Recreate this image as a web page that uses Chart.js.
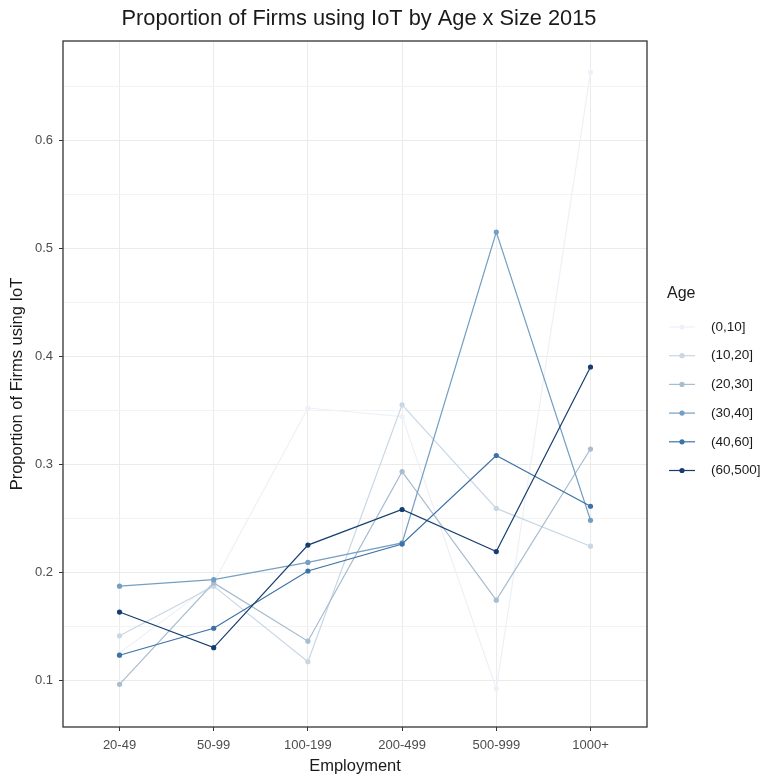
<!DOCTYPE html>
<html>
<head>
<meta charset="utf-8">
<title>Proportion of Firms using IoT by Age x Size 2015</title>
<script src="https://cdn.jsdelivr.net/npm/chart.js@4.4.1/dist/chart.umd.min.js"></script>
<style>
    html, body { margin: 0; padding: 0; background: #ffffff; }
    #wrap { width: 769px; height: 776px; }
</style>
</head>
<body>
<div id="wrap"><canvas id="iotChart" width="769" height="776"></canvas></div>
<script>
// employment size classes (x axis)
const sizes = ['20-49', '50-99', '100-199', '200-499', '500-999', '1000+'];

// firm age groups (legend)
const ages = ['(0,10]', '(10,20]', '(20,30]', '(30,40]', '(40,60]', '(60,500]'];

// proportion of firms using IoT, one array per age group
const age0to10 = [0.125, 0.190, 0.352, 0.344, 0.092, 0.663];
const age10to20 = [0.141, 0.187, 0.117, 0.355, 0.259, 0.224];
const age20to30 = [0.096, 0.190, 0.136, 0.293, 0.174, 0.314];
const age30to40 = [0.187, 0.193, 0.209, 0.227, 0.515, 0.248];
const age40to60 = [0.123, 0.148, 0.201, 0.226, 0.308, 0.261];
const age60to500 = [0.163, 0.130, 0.225, 0.258, 0.219, 0.390];

const yTicks = [0.1, 0.2, 0.3, 0.4, 0.5, 0.6];

const seriesValues = [age0to10, age10to20, age20to30, age30to40, age40to60, age60to500];
const palette = ['#edf1f7', '#c9d7e5', '#a8bdd0', '#759fc2', '#3d72a6', '#163d70'];

const FONT = '"Liberation Sans", Arial, sans-serif';
const TITLE = 'Proportion of Firms using IoT by Age x Size 2015';

const isMajor = v => yTicks.some(t => Math.abs(t - v) < 1e-6);

const datasets = ages.map((age, i) => ({
    label: age,
    data: seriesValues[i].map((v, j) => ({ x: j, y: v })),
    borderColor: palette[i],
    backgroundColor: palette[i],
    borderWidth: 1.2,
    pointRadius: 2.6,
    pointHoverRadius: 2.6,
    pointBorderWidth: 0,
    tension: 0,
    order: ages.length - i
}));

// title over the panel, panel border, and the legend on the right
const panelAndLegend = {
    id: 'panelAndLegend',
    afterDraw(chart) {
        const ctx = chart.ctx;
        const a = chart.chartArea;
        ctx.save();
        ctx.strokeStyle = '#333333';
        ctx.lineWidth = 1.3;
        ctx.strokeRect(a.left, a.top, a.right - a.left, a.bottom - a.top);

        ctx.fillStyle = '#1a1a1a';
        ctx.textBaseline = 'middle';
        ctx.textAlign = 'center';
        ctx.font = '21.8px ' + FONT;
        ctx.fillText(TITLE, (a.left + a.right) / 2 + 4, 19);

        ctx.textAlign = 'left';
        ctx.font = '16px ' + FONT;
        ctx.fillText('Age', 667, 294);

        ctx.font = '13.5px ' + FONT;
        chart.data.datasets.forEach((ds, i) => {
            const y = 327 + i * 28.7;
            ctx.strokeStyle = ds.borderColor;
            ctx.lineWidth = 1.2;
            ctx.beginPath();
            ctx.moveTo(669, y);
            ctx.lineTo(695, y);
            ctx.stroke();
            ctx.fillStyle = ds.backgroundColor;
            ctx.beginPath();
            ctx.arc(682, y, 2.6, 0, Math.PI * 2);
            ctx.fill();
            ctx.fillStyle = '#1a1a1a';
            ctx.fillText(ds.label, 711, y);
        });
        ctx.restore();
    }
};

new Chart(document.getElementById('iotChart').getContext('2d'), {
    type: 'line',
    data: { datasets: datasets },
    options: {
        responsive: false,
        animation: false,
        layout: { padding: { left: 0, right: 122, top: 41, bottom: 0 } },
        plugins: {
            legend: { display: false },
            tooltip: { enabled: false },
            title: { display: false }
        },
        scales: {
            x: {
                type: 'linear',
                min: -0.6,
                max: sizes.length - 1 + 0.6,
                afterBuildTicks: scale => {
                    scale.ticks = sizes.map((s, i) => ({ value: i }));
                },
                afterFit: scale => { scale.height = 49; },
                ticks: {
                    callback: v => sizes[v],
                    color: '#4d4d4d',
                    font: { family: FONT, size: 13 },
                    padding: 7,
                    maxRotation: 0,
                    autoSkip: false
                },
                grid: {
                    color: '#ebebeb',
                    lineWidth: 1,
                    tickLength: 4,
                    tickColor: '#333333'
                },
                border: { display: false },
                title: {
                    display: true,
                    text: 'Employment',
                    color: '#1a1a1a',
                    font: { family: FONT, size: 16.5 },
                    padding: { top: 0, bottom: 0 }
                }
            },
            y: {
                type: 'linear',
                min: 0.0565,
                max: 0.692,
                afterBuildTicks: scale => {
                    const t = [];
                    for (let k = 1; k <= 13; k++) t.push({ value: k * 0.05 });
                    scale.ticks = t.filter(o => o.value >= scale.min && o.value <= scale.max);
                },
                afterFit: scale => { scale.width = 63; },
                ticks: {
                    callback: v => (isMajor(v) ? v.toFixed(1) : ''),
                    color: '#4d4d4d',
                    font: { family: FONT, size: 13 },
                    padding: 6
                },
                grid: {
                    color: ctx => (isMajor(ctx.tick.value) ? '#ebebeb' : '#f3f3f3'),
                    lineWidth: 1,
                    tickLength: 4,
                    tickColor: ctx => (isMajor(ctx.tick.value) ? '#333333' : 'rgba(0,0,0,0)')
                },
                border: { display: false },
                title: {
                    display: true,
                    text: 'Proportion of Firms using IoT',
                    color: '#1a1a1a',
                    font: { family: FONT, size: 16.5 },
                    padding: { top: 8, bottom: 0 }
                }
            }
        }
    },
    plugins: [panelAndLegend]
});
</script>
</body>
</html>
